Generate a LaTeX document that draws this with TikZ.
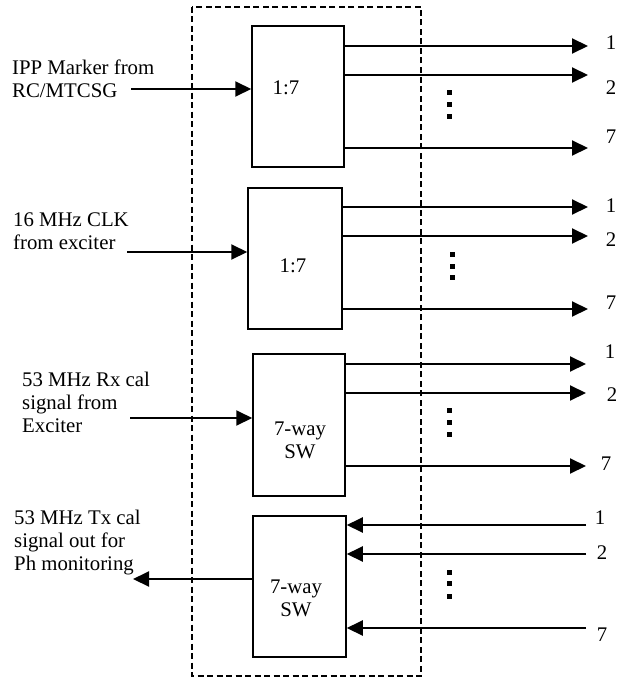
\documentclass[tikz,border=0pt]{standalone}
\usepackage{fontspec}
\setmainfont{Liberation Serif}
\usetikzlibrary{arrows.meta}
\begin{document}
\begin{tikzpicture}[x=1pt,y=-1pt,
  font=\fontsize{20.8}{23}\selectfont,
  blk/.style={draw,line width=1.5pt,inner sep=0pt},
  txt/.style={inner sep=0pt,align=left,anchor=west},
  sig/.style={line width=2pt,-{Triangle[length=16pt,width=15pt]}}]
\useasboundingbox (0,0) rectangle (624,677);
\draw[line width=1.3pt,dash pattern=on 6pt off 3.5pt] (192,7) rectangle (421,676);
\node[blk,minimum width=92pt,minimum height=141pt] (B1) at (298,96.5) {};
\node[blk,minimum width=94pt,minimum height=141pt] (B2) at (295,258.5) {};
\node[blk,minimum width=92pt,minimum height=142pt] (B3) at (299,425) {};
\node[blk,minimum width=93pt,minimum height=141pt] (B4) at (299.5,586.5) {};
\node[inner sep=0pt] (B1t) at (286,88) {1:7};
\node[inner sep=0pt] (B2t) at (293,266) {1:7};
\node[inner sep=0pt,align=center] (B3t) at (300,440) {7-way\\SW};
\node[inner sep=0pt,align=center] (B4t) at (296,598) {7-way\\SW};
\node[txt] (ipp) at (12,79) {IPP Marker from\\RC/MTCSG};
\node[txt] (clk) at (13,231.5) {16 MHz CLK\\from exciter};
\node[txt] (rxc) at (22,402) {53 MHz Rx cal\\signal from\\Exciter};
\node[txt] (txc) at (14,543) {53 MHz Tx cal\\signal out for\\Ph monitoring};
\coordinate (i1) at (131,89);
\coordinate (i2) at (127,252);
\coordinate (i3) at (130,418);
\coordinate (o4) at (133,579);
\draw[sig] (i1) -- (B1.west |- i1);
\draw[sig] (i2) -- (B2.west |- i2);
\draw[sig] (i3) -- (B3.west |- i3);
\draw[sig] (B4.west |- o4) -- (o4);
\coordinate (t11) at (588,46);
\coordinate (t12) at (588,75);
\coordinate (t17) at (588,148);
\coordinate (t21) at (588,207);
\coordinate (t22) at (588,236);
\coordinate (t27) at (588,309);
\coordinate (t31) at (586,364);
\coordinate (t32) at (586,393);
\coordinate (t37) at (586,466);
\coordinate (t41) at (586,525);
\coordinate (t42) at (586,554);
\coordinate (t47) at (586,628);
\draw[sig] (B1.east |- t11) -- (t11);
\draw[sig] (B1.east |- t12) -- (t12);
\draw[sig] (B1.east |- t17) -- (t17);
\draw[sig] (B2.east |- t21) -- (t21);
\draw[sig] (B2.east |- t22) -- (t22);
\draw[sig] (B2.east |- t27) -- (t27);
\draw[sig] (B3.east |- t31) -- (t31);
\draw[sig] (B3.east |- t32) -- (t32);
\draw[sig] (B3.east |- t37) -- (t37);
\draw[sig] (t41) -- (B4.east |- t41);
\draw[sig] (t42) -- (B4.east |- t42);
\draw[sig] (t47) -- (B4.east |- t47);
\node[inner sep=0pt] (n11) at (611,43) {1};
\node[inner sep=0pt] (n12) at (611,88) {2};
\node[inner sep=0pt] (n17) at (611,137) {7};
\node[inner sep=0pt] (n21) at (611,206) {1};
\node[inner sep=0pt] (n22) at (611,240) {2};
\node[inner sep=0pt] (n27) at (611,303) {7};
\node[inner sep=0pt] (n31) at (610,352) {1};
\node[inner sep=0pt] (n32) at (612,395) {2};
\node[inner sep=0pt] (n37) at (606,464) {7};
\node[inner sep=0pt] (n41) at (600,518) {1};
\node[inner sep=0pt] (n42) at (602,553) {2};
\node[inner sep=0pt] (n47) at (602,635) {7};
\fill (446.5,89.5) rectangle (451.5,94.5);
\fill (446.5,101.5) rectangle (451.5,106.5);
\fill (446.5,113.5) rectangle (451.5,118.5);
\fill (449.5,251.5) rectangle (454.5,256.5);
\fill (449.5,263.5) rectangle (454.5,268.5);
\fill (449.5,274.5) rectangle (454.5,279.5);
\fill (446.5,407.5) rectangle (451.5,412.5);
\fill (446.5,419.5) rectangle (451.5,424.5);
\fill (446.5,431.5) rectangle (451.5,436.5);
\fill (446.5,569.5) rectangle (451.5,574.5);
\fill (446.5,580.5) rectangle (451.5,585.5);
\fill (446.5,593.5) rectangle (451.5,598.5);
\end{tikzpicture}
\end{document}
